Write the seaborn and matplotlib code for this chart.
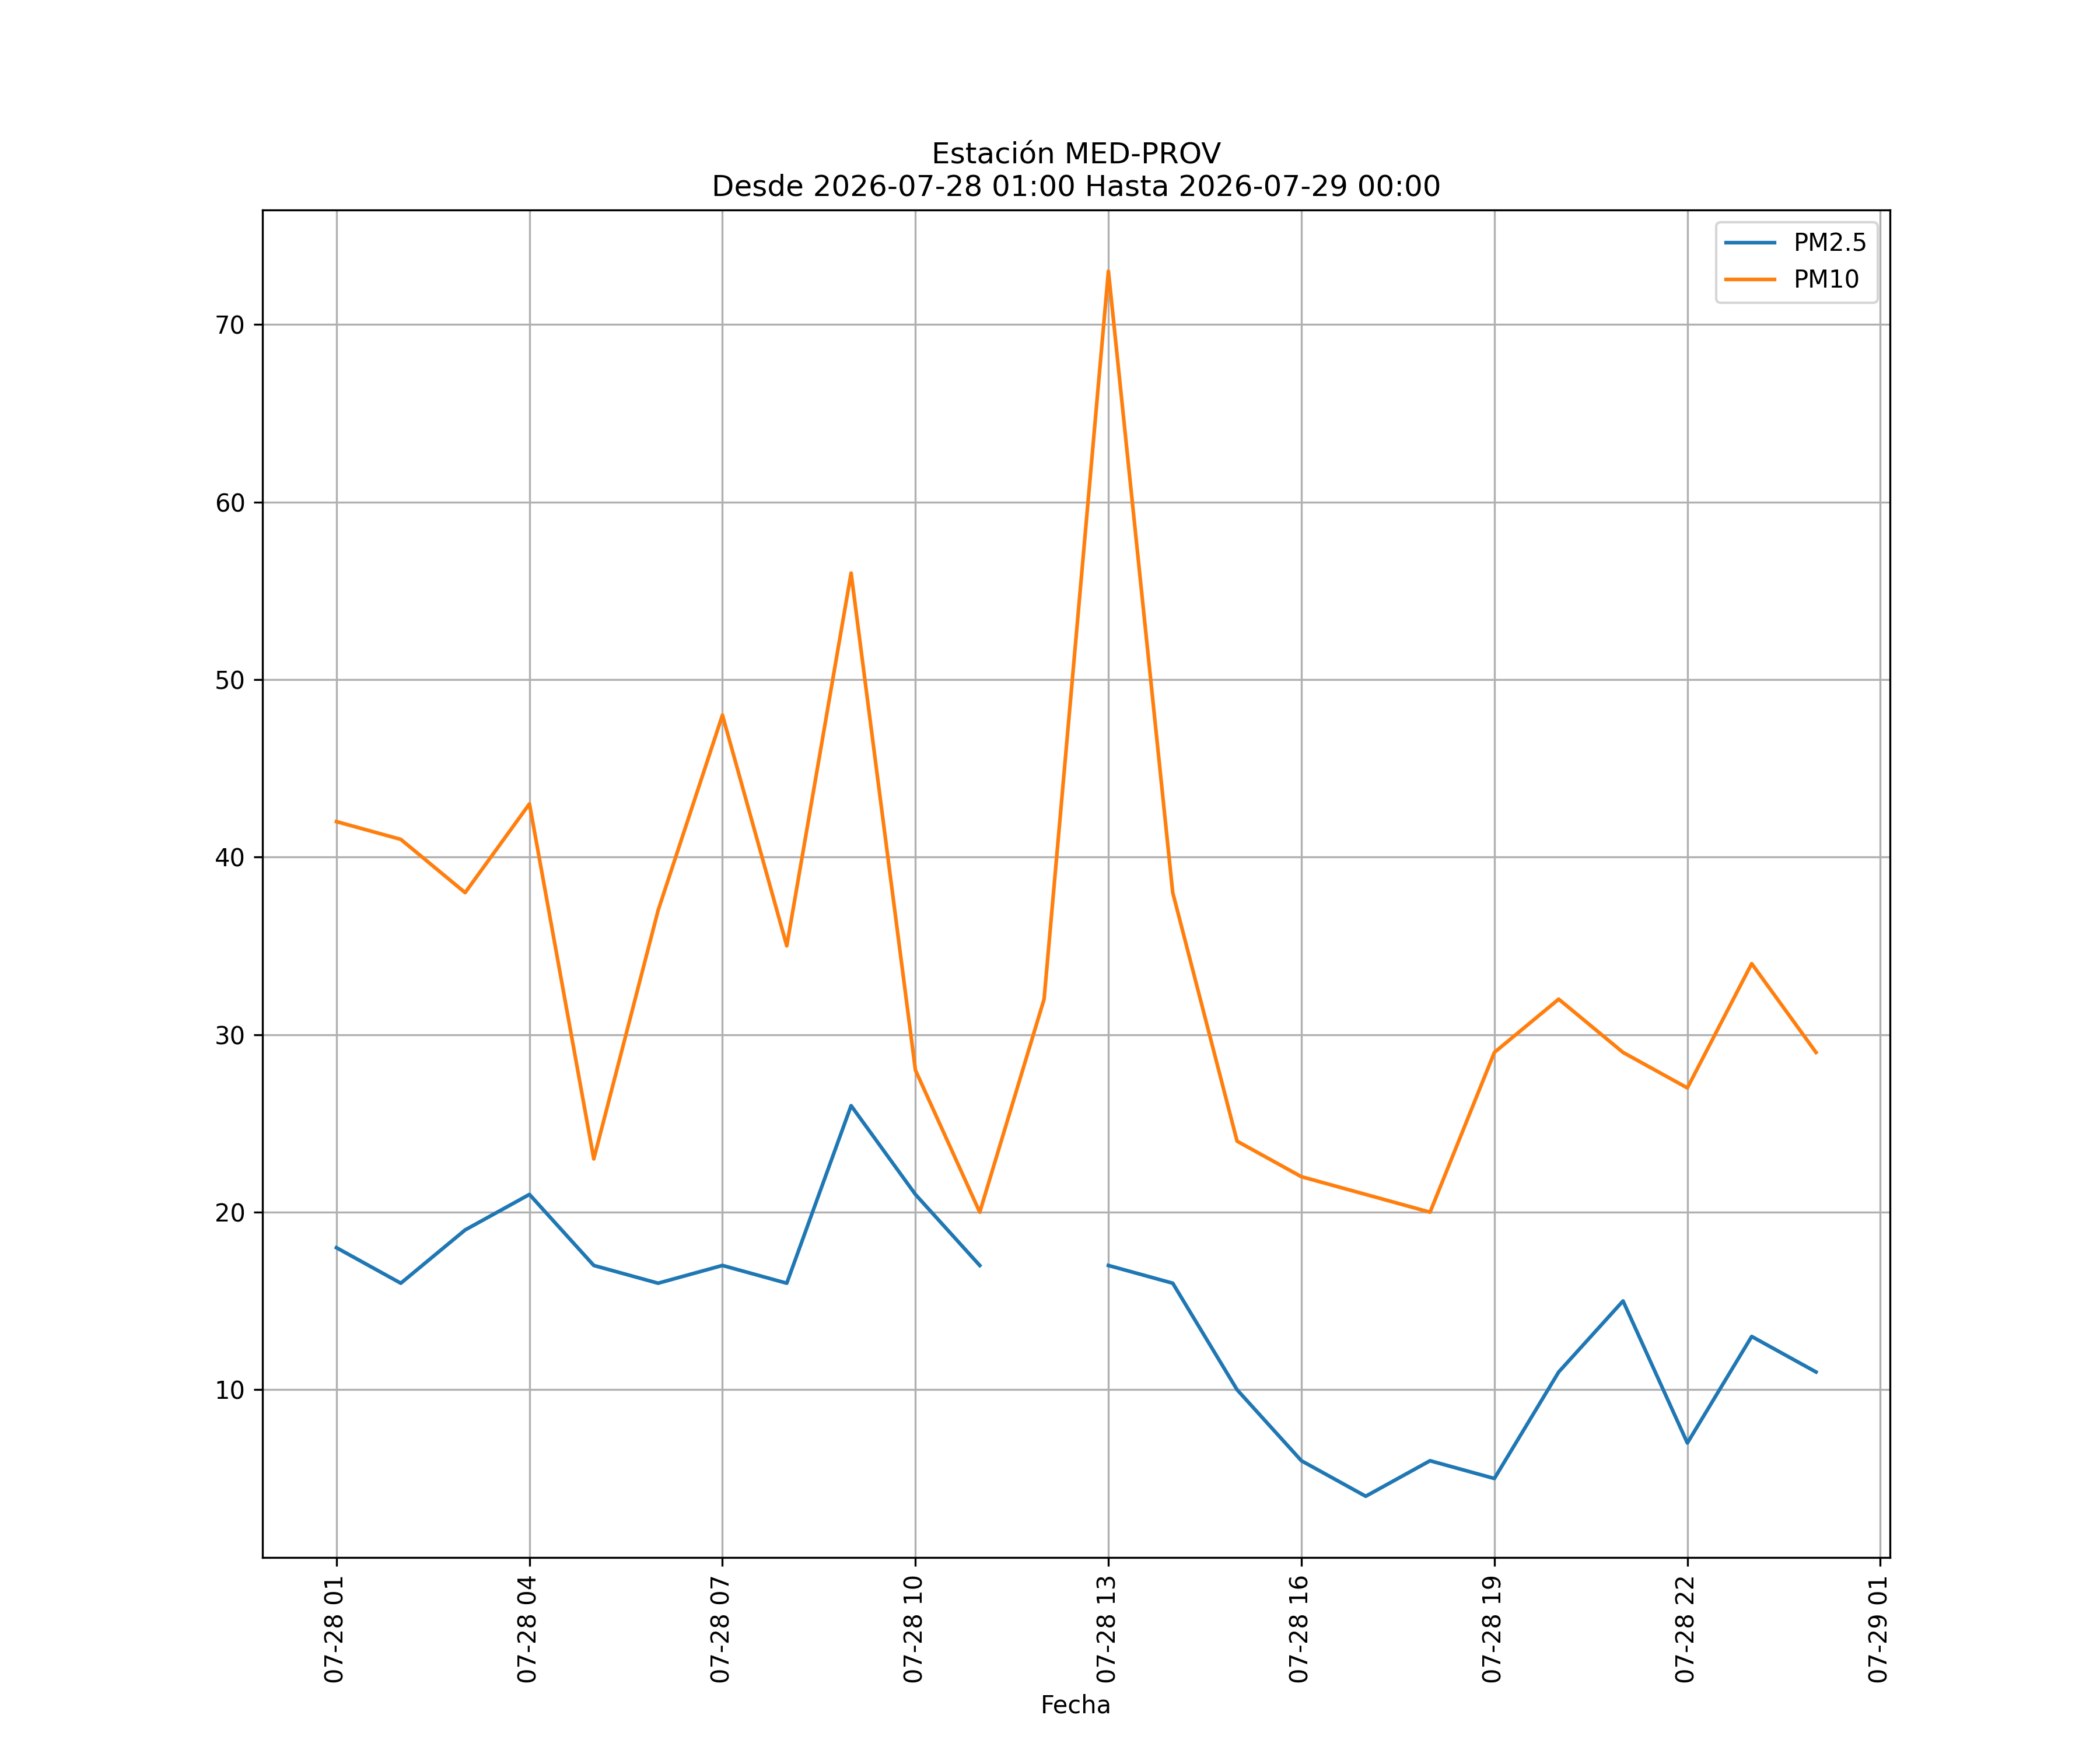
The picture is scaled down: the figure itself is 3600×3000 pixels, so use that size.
import numpy as np
import pandas as pd
import seaborn as sns
import matplotlib.pyplot as plt
import matplotlib.dates as mdates

horas = pd.date_range("2026-07-28 01:00", "2026-07-29 00:00", freq="h")
pm25 = [18, 16, 19, 21, 17, 16, 17, 16, 26, 21, 17, np.nan,
        17, 16, 10, 6, 4, 6, 5, 11, 15, 7, 13, 11]
pm10 = [42, 41, 38, 43, 23, 37, 48, 35, 56, 28, 20, 32,
        73, 38, 24, 22, 21, 20, 29, 32, 29, 27, 34, 29]

rows = []
for name, vals in (("PM2.5", pm25), ("PM10", pm10)):
    seg = 0
    for t, v in zip(horas, vals):
        if np.isnan(v):
            seg += 1
            continue
        rows.append({"Fecha": t, "valor": v, "serie": name, "seg": f"{name}_{seg}"})
df = pd.DataFrame(rows)

fig, ax = plt.subplots(figsize=(12, 10), dpi=300)
sns.lineplot(data=df, x="Fecha", y="valor", hue="serie", units="seg",
             estimator=None, palette=["#1f77b4", "#ff7f0e"], ax=ax, linewidth=1.5)
ax.legend(title=None, loc="upper right")
ax.grid(True)
ax.set_ylabel("")
ax.set_xlabel("Fecha")
ax.xaxis.set_major_locator(mdates.HourLocator(byhour=[1, 4, 7, 10, 13, 16, 19, 22]))
ax.xaxis.set_major_formatter(mdates.DateFormatter("%m-%d %H"))
plt.setp(ax.get_xticklabels(), rotation=90)
ax.set_title("Estación MED-PROV\nDesde 2026-07-28 01:00 Hasta 2026-07-29 00:00")
fig.savefig("out.png")
